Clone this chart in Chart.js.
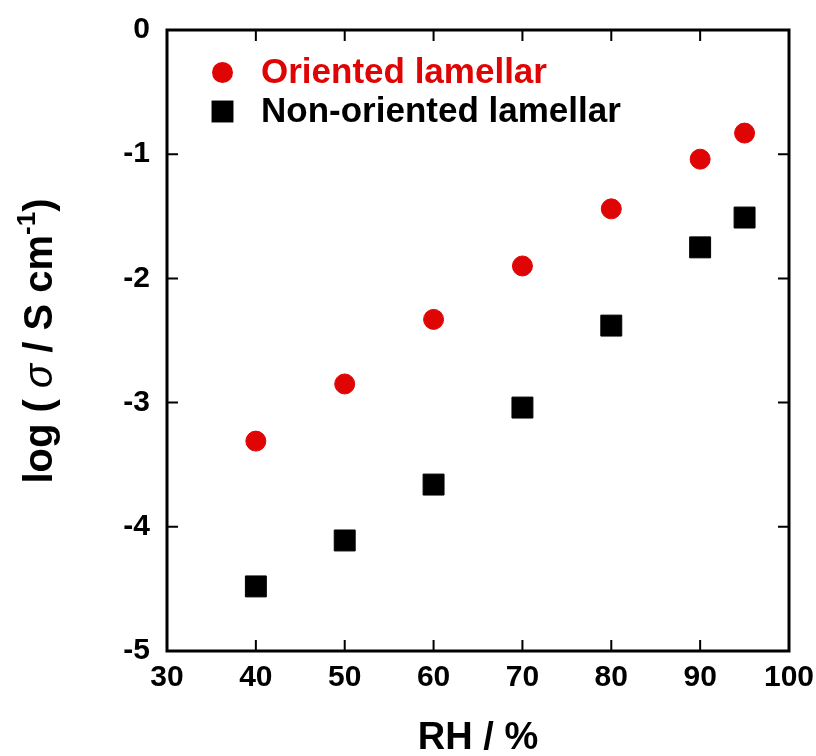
<!DOCTYPE html>
<html>
<head>
<meta charset="utf-8">
<title>log σ vs RH</title>
<script src="https://cdn.jsdelivr.net/npm/chart.js@4.4.1/dist/chart.umd.min.js"></script>
<style>
  html, body { margin: 0; padding: 0; background: #ffffff; }
  #wrap { width: 816px; height: 756px; position: relative; }
</style>
</head>
<body>
<div id="wrap"><canvas id="c" width="816" height="756"></canvas></div>
<script>
// Relative humidity (%) at which conductivity was measured
const humidity = [40, 50, 60, 70, 80, 90, 95];
// log(σ / S cm^-1) for each film type
const orientedLogSigma = [-3.31, -2.85, -2.33, -1.90, -1.44, -1.04, -0.83];
const nonOrientedLogSigma = [-4.48, -4.11, -3.66, -3.04, -2.38, -1.75, -1.51];
const seriesNames = ['Oriented lamellar', 'Non-oriented lamellar'];
// Axis ticks
const xTickValues = [30, 40, 50, 60, 70, 80, 90, 100];
const yTickValues = [0, -1, -2, -3, -4, -5];

const FONT = "'Liberation Sans', Arial, Helvetica, sans-serif";
const RED = '#e00505';
const BLACK = '#000000';

Chart.defaults.font.family = FONT;
Chart.defaults.color = BLACK;

const toPoints = (xs, ys) => xs.map((x, i) => ({ x: x, y: ys[i] }));

// Boxed frame with inward tick marks on all four sides
const framePlugin = {
  id: 'frame',
  beforeDatasetsDraw(chart) {
    const { ctx, chartArea: a, scales } = chart;
    ctx.save();
    ctx.strokeStyle = BLACK;
    ctx.lineWidth = 2;
    const tl = 11;
    xTickValues.forEach(v => {
      if (v === xTickValues[0] || v === xTickValues[xTickValues.length - 1]) return;
      const px = scales.x.getPixelForValue(v);
      ctx.beginPath();
      ctx.moveTo(px, a.bottom); ctx.lineTo(px, a.bottom - tl);
      ctx.moveTo(px, a.top); ctx.lineTo(px, a.top + tl);
      ctx.stroke();
    });
    yTickValues.forEach(v => {
      if (v === yTickValues[0] || v === yTickValues[yTickValues.length - 1]) return;
      const py = scales.y.getPixelForValue(v);
      ctx.beginPath();
      ctx.moveTo(a.left, py); ctx.lineTo(a.left + tl, py);
      ctx.moveTo(a.right, py); ctx.lineTo(a.right - tl, py);
      ctx.stroke();
    });
    ctx.lineWidth = 3;
    ctx.strokeRect(a.left, a.top, a.right - a.left, a.bottom - a.top);
    ctx.restore();
  }
};

// Legend drawn inside the plot, top-left
const insetLegend = {
  id: 'insetLegend',
  afterDatasetsDraw(chart) {
    const { ctx } = chart;
    const markerX = 222.5;
    const textX = 261;
    const rows = [72.5, 111.5];
    ctx.save();
    ctx.font = `bold 35px ${FONT}`;
    ctx.textBaseline = 'middle';
    ctx.textAlign = 'left';
    chart.data.datasets.forEach((ds, i) => {
      const y = rows[i];
      ctx.fillStyle = ds.backgroundColor;
      if (ds.pointStyle === 'circle') {
        ctx.beginPath();
        ctx.arc(markerX, y, ds.pointRadius + ds.pointBorderWidth / 2, 0, Math.PI * 2);
        ctx.fill();
      } else {
        const half = Math.SQRT1_2 * ds.pointRadius + ds.pointBorderWidth / 2;
        ctx.fillRect(markerX - half, y - half, half * 2, half * 2);
      }
      ctx.fillStyle = ds.backgroundColor;
      ctx.fillText(ds.label, textX, y + 1);
    });
    ctx.restore();
  }
};

// Vertical axis title with italic sigma and superscript exponent
const yTitlePlugin = {
  id: 'yTitle',
  afterDraw(chart) {
    const { ctx } = chart;
    const size = 40;
    const parts = [
      { t: 'log ( ', f: `bold ${size}px ${FONT}`, dy: 0 },
      { t: 'σ', f: `italic ${size}px ${FONT}`, dy: 0 },
      { t: ' / S cm', f: `bold ${size}px ${FONT}`, dy: 0 },
      { t: '-1', f: `bold ${Math.round(size * 0.65)}px ${FONT}`, dy: -size * 0.42 },
      { t: ')', f: `bold ${size}px ${FONT}`, dy: 0 }
    ];
    ctx.save();
    let total = 0;
    parts.forEach(p => { ctx.font = p.f; p.w = ctx.measureText(p.t).width; total += p.w; });
    ctx.translate(52, 341);
    ctx.rotate(-Math.PI / 2);
    ctx.fillStyle = BLACK;
    ctx.textBaseline = 'alphabetic';
    ctx.textAlign = 'left';
    let x = -total / 2;
    parts.forEach(p => {
      ctx.font = p.f;
      ctx.fillText(p.t, x, p.dy);
      x += p.w;
    });
    ctx.restore();
  }
};

new Chart(document.getElementById('c'), {
  type: 'scatter',
  data: {
    datasets: [
      {
        label: seriesNames[0],
        data: toPoints(humidity, orientedLogSigma),
        pointStyle: 'circle',
        pointRadius: 10,
        pointBorderWidth: 1,
        backgroundColor: RED,
        borderColor: RED
      },
      {
        label: seriesNames[1],
        data: toPoints(humidity, nonOrientedLogSigma),
        pointStyle: 'rect',
        pointRadius: 14.8,
        pointBorderWidth: 1,
        backgroundColor: BLACK,
        borderColor: BLACK
      }
    ]
  },
  options: {
    responsive: false,
    animation: false,
    devicePixelRatio: 1,
    layout: { padding: { top: 30, right: 27, left: 0, bottom: 0 } },
    plugins: {
      legend: { display: false },
      tooltip: { enabled: false }
    },
    scales: {
      x: {
        type: 'linear',
        min: 30,
        max: 100,
        afterBuildTicks: s => { s.ticks = xTickValues.map(v => ({ value: v })); },
        afterFit: s => { s.height = 105; s.paddingLeft = 0; s.paddingRight = 0; },
        grid: { display: false, drawTicks: false },
        border: { display: false },
        ticks: {
          font: { size: 30, weight: 'bold' },
          color: BLACK,
          padding: 9,
          maxRotation: 0
        },
        title: {
          display: true,
          text: 'RH / %',
          font: { size: 38, weight: 'bold', lineHeight: 1 },
          color: BLACK,
          padding: { top: 0, bottom: -2 }
        }
      },
      y: {
        type: 'linear',
        min: -5,
        max: 0,
        afterBuildTicks: s => { s.ticks = yTickValues.map(v => ({ value: v })); },
        afterFit: s => { s.width = 167; s.paddingTop = 0; s.paddingBottom = 0; },
        grid: { display: false, drawTicks: false },
        border: { display: false },
        ticks: {
          font: { size: 30, weight: 'bold' },
          color: BLACK,
          padding: 17
        }
      }
    }
  },
  plugins: [framePlugin, insetLegend, yTitlePlugin]
});
</script>
</body>
</html>
